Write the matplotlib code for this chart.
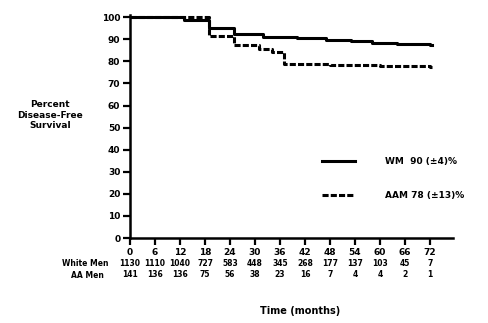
import matplotlib
matplotlib.use("Agg")
import matplotlib.pyplot as plt

# data
wm_t = [0, 13, 19, 25, 32, 40, 47, 53, 58, 64, 72]
wm_s = [100, 98.6, 95.1, 92.6, 91.2, 90.5, 89.8, 89.0, 88.4, 87.8, 87.3]

aam_t = [0, 19, 25, 31, 34, 37, 48, 60, 72]
aam_s = [100, 91.5, 87.6, 85.8, 84.3, 79.0, 78.3, 77.8, 77.4]

months = [0, 6, 12, 18, 24, 30, 36, 42, 48, 54, 60, 66, 72]
wm_risk = [1130, 1110, 1040, 727, 583, 448, 345, 268, 177, 137, 103, 45, 7]
aam_risk = [141, 136, 136, 75, 56, 38, 23, 16, 7, 4, 4, 2, 1]

y_ticks = [0, 10, 20, 30, 40, 50, 60, 70, 80, 90, 100]

plt.rcParams["font.family"] = "DejaVu Sans"
plt.rcParams["font.weight"] = "bold"

W, H = 489, 323
fig = plt.figure(figsize=(W / 100, H / 100), dpi=100)
ax = fig.add_axes([130 / W, 1 - 238 / H, 323 / W, 223 / H])

l2, = ax.step(aam_t + [72.5], aam_s + [aam_s[-1]], where="post", color="black",
              lw=2.2, linestyle=(0, (2, 0.7)))
l1, = ax.step(wm_t + [72.5], wm_s + [wm_s[-1]], where="post", color="black", lw=2.2)

ax.set_xlim(0, 77.5)
ax.set_ylim(0, 101)
ax.set_xticks(months)
ax.set_yticks(y_ticks)
ax.tick_params(axis="both", direction="out", length=5, width=1.6, labelsize=6.5, pad=2)
for s in ["top", "right"]:
    ax.spines[s].set_visible(False)
for s in ["left", "bottom"]:
    ax.spines[s].set_linewidth(1.8)

# number at risk rows
for m, a, b in zip(months, wm_risk, aam_risk):
    ax.text(m, -0.115, str(a), transform=ax.get_xaxis_transform(), ha="center",
            va="center", fontsize=5.5, fontweight="bold")
    ax.text(m, -0.165, str(b), transform=ax.get_xaxis_transform(), ha="center",
            va="center", fontsize=5.5, fontweight="bold")
fig.text(85 / W, 1 - 264 / H, "White Men", ha="center", va="center", fontsize=5.5, fontweight="bold")
fig.text(87 / W, 1 - 275 / H, "AA Men", ha="center", va="center", fontsize=5.5, fontweight="bold")

fig.text(50 / W, 1 - 115 / H, "Percent\nDisease-Free\nSurvival", ha="center", va="center",
         fontsize=6.5, fontweight="bold", linespacing=1.2)
fig.text(300 / W, 1 - 311 / H, "Time (months)", ha="center", va="center",
         fontsize=7, fontweight="bold")

ax.legend([l1, l2], ["WM  90 (\u00b14)%", "AAM 78 (\u00b113)%"], loc="upper left",
          bbox_to_anchor=(322 / W, 1 - 157 / H), bbox_transform=fig.transFigure,
          frameon=False, fontsize=6.5, handlelength=3.6, handletextpad=3.4,
          labelspacing=2.8, borderpad=0, borderaxespad=0)

fig.savefig("out.png", dpi=100)
